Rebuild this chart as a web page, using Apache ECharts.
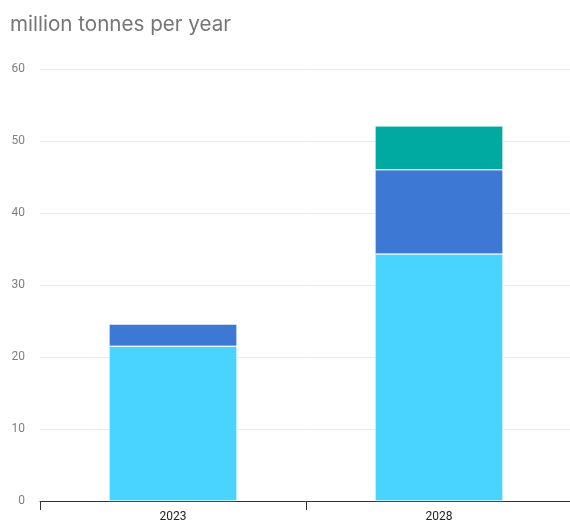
<!DOCTYPE html>
<html>
<head>
<meta charset="utf-8">
<script src="https://cdn.jsdelivr.net/npm/echarts@6/dist/echarts.min.js"></script>
<style>
  html, body { margin: 0; padding: 0; background: #fff; }
  #chart { width: 570px; height: 521px; }
</style>
</head>
<body>
<div id="chart"></div>
<script>
var chart = echarts.init(document.getElementById('chart'));

// data
var years = ['2023', '2028'];
var baseVals = [21.5, 34.3];
var midVals = [3.1, 11.7];
var topVals = [0, 6.1];

var option = {
  animation: false,
  title: {
    text: 'million tonnes per year',
    left: 5,
    top: 9,
    textStyle: {
      fontFamily: 'Inter',
      fontSize: 20.6,
      fontWeight: 'normal',
      color: '#767676'
    }
  },
  grid: {
    left: 40,
    right: -2,
    top: 69,
    bottom: 20,
    outerBoundsMode: 'none'
  },
  xAxis: {
    type: 'category',
    data: years,
    axisLine: { lineStyle: { color: '#333', width: 1 } },
    axisTick: { show: true, length: 9, interval: 0, lineStyle: { color: '#333' } },
    axisLabel: {
      color: '#222',
      fontSize: 12,
      fontFamily: 'Roboto',
      margin: 10
    }
  },
  yAxis: {
    type: 'value',
    min: 0,
    max: 60,
    interval: 10,
    axisLine: { show: false },
    axisTick: { show: false },
    splitLine: { lineStyle: { color: '#ebebeb' } },
    axisLabel: {
      color: '#808080',
      fontSize: 12,
      fontFamily: 'Roboto',
      margin: 15
    }
  },
  series: [
    {
      name: 'base',
      type: 'bar',
      stack: 'a',
      barWidth: 128,
      data: baseVals,
      itemStyle: { color: '#48d4ff', borderColor: '#fff', borderWidth: 0.6 }
    },
    {
      name: 'mid',
      type: 'bar',
      stack: 'a',
      data: midVals,
      itemStyle: { color: '#3c78d4', borderColor: '#fff', borderWidth: 0.6 }
    },
    {
      name: 'top',
      type: 'bar',
      stack: 'a',
      data: topVals,
      itemStyle: { color: '#00aaa0', borderColor: '#fff', borderWidth: 0.6 }
    }
  ]
};

option && chart.setOption(option);
</script>
</body>
</html>
